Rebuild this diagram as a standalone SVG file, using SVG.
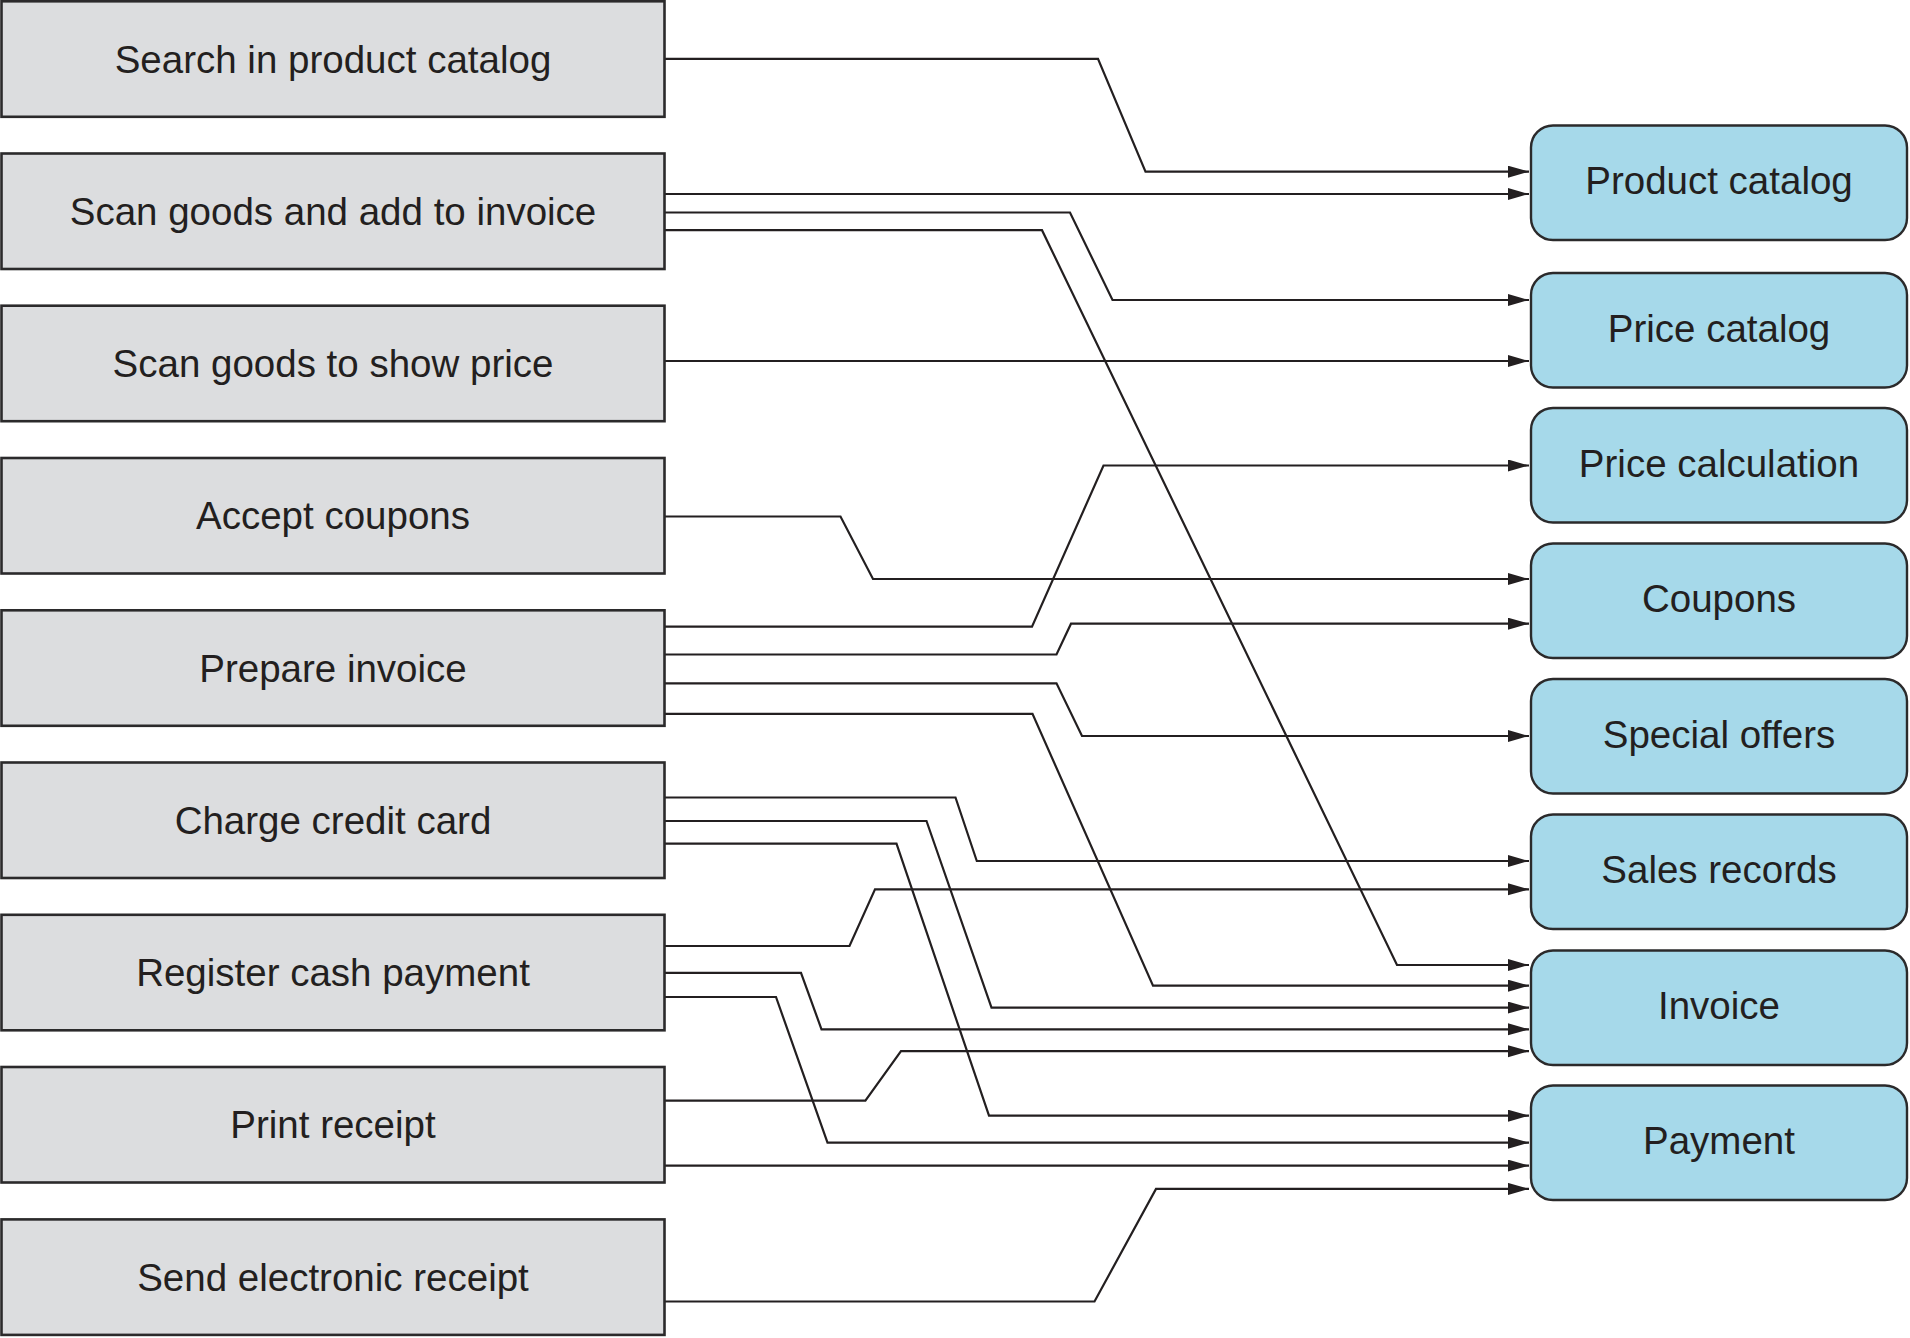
<svg xmlns="http://www.w3.org/2000/svg" width="1910" height="1338" viewBox="0 0 1910 1338">
<style>
.src rect{fill:#dcdddf;stroke:#2b2a2b;stroke-width:2.6}
.dst rect{fill:#a6d9ea;stroke:#2b2a2b;stroke-width:2.4}
text{font-family:"Liberation Sans",Arial,sans-serif;font-size:38.5px;fill:#231f20;text-anchor:middle}
#connectors path{fill:none;stroke:#231f20;stroke-width:2.2;marker-end:url(#arr)}
</style>
<defs>
<marker id="arr" markerWidth="22" markerHeight="13" refX="21" refY="6" orient="auto" markerUnits="userSpaceOnUse">
<path d="M0,0 L21,6 L0,12 Z" fill="#231f20"/>
</marker>
</defs>
<rect width="1910" height="1338" fill="#ffffff"/>
<g id="connectors">
<path d="M665,58.8 H1098 L1145.5,171.7 H1529"/>
<path d="M665,194 H1529"/>
<path d="M665,212.5 H1070 L1112.5,300 H1529"/>
<path d="M665,230.2 H1042 L1397,965 H1529"/>
<path d="M665,361 H1529"/>
<path d="M665,516.5 H840.5 L873,579 H1529"/>
<path d="M665,626.7 H1032 L1103.5,465.5 H1529"/>
<path d="M665,654.5 H1056.5 L1071,623.7 H1529"/>
<path d="M665,683.3 H1056.5 L1082,736 H1529"/>
<path d="M665,713.8 H1032.5 L1153,985.7 H1529"/>
<path d="M665,797.5 H955.5 L976.8,861 H1529"/>
<path d="M665,821 H926.5 L991.5,1007.6 H1529"/>
<path d="M665,843.7 H896.5 L989,1115.7 H1529"/>
<path d="M665,946 H849.5 L875,889.3 H1529"/>
<path d="M665,972.8 H801 L821.5,1029.3 H1529"/>
<path d="M665,997 H776 L827.5,1142.7 H1529"/>
<path d="M665,1100.7 H865.4 L901,1051.2 H1529"/>
<path d="M665,1165.6 H1529"/>
<path d="M665,1301.5 H1094.5 L1156,1188.9 H1529"/>
</g>
<g id="n-search" class="src"><rect x="1.5" y="1.3" width="663" height="115.5"/><text x="333" y="72.5">Search in product catalog</text></g>
<g id="n-scanadd" class="src"><rect x="1.5" y="153.5" width="663" height="115.5"/><text x="333" y="224.7">Scan goods and add to invoice</text></g>
<g id="n-scanprice" class="src"><rect x="1.5" y="305.7" width="663" height="115.5"/><text x="333" y="377">Scan goods to show price</text></g>
<g id="n-accept" class="src"><rect x="1.5" y="458" width="663" height="115.5"/><text x="333" y="529.2">Accept coupons</text></g>
<g id="n-prepare" class="src"><rect x="1.5" y="610.3" width="663" height="115.5"/><text x="333" y="681.5">Prepare invoice</text></g>
<g id="n-charge" class="src"><rect x="1.5" y="762.5" width="663" height="115.5"/><text x="333" y="833.7">Charge credit card</text></g>
<g id="n-register" class="src"><rect x="1.5" y="914.8" width="663" height="115.5"/><text x="333" y="986">Register cash payment</text></g>
<g id="n-print" class="src"><rect x="1.5" y="1067" width="663" height="115.5"/><text x="333" y="1138.2">Print receipt</text></g>
<g id="n-send" class="src"><rect x="1.5" y="1219.4" width="663" height="115.5"/><text x="333" y="1290.6">Send electronic receipt</text></g>
<g id="n-productcatalog" class="dst"><rect x="1531" y="125.5" width="376" height="114.5" rx="22"/><text x="1719" y="194">Product catalog</text></g>
<g id="n-pricecatalog" class="dst"><rect x="1531" y="273" width="376" height="114.5" rx="22"/><text x="1719" y="341.5">Price catalog</text></g>
<g id="n-pricecalc" class="dst"><rect x="1531" y="408" width="376" height="114.5" rx="22"/><text x="1719" y="476.5">Price calculation</text></g>
<g id="n-coupons" class="dst"><rect x="1531" y="543.5" width="376" height="114.5" rx="22"/><text x="1719" y="612">Coupons</text></g>
<g id="n-special" class="dst"><rect x="1531" y="679" width="376" height="114.5" rx="22"/><text x="1719" y="747.5">Special offers</text></g>
<g id="n-sales" class="dst"><rect x="1531" y="814.5" width="376" height="114.5" rx="22"/><text x="1719" y="883">Sales records</text></g>
<g id="n-invoice" class="dst"><rect x="1531" y="950.5" width="376" height="114.5" rx="22"/><text x="1719" y="1019">Invoice</text></g>
<g id="n-payment" class="dst"><rect x="1531" y="1085.5" width="376" height="114.5" rx="22"/><text x="1719" y="1154">Payment</text></g>
</svg>
